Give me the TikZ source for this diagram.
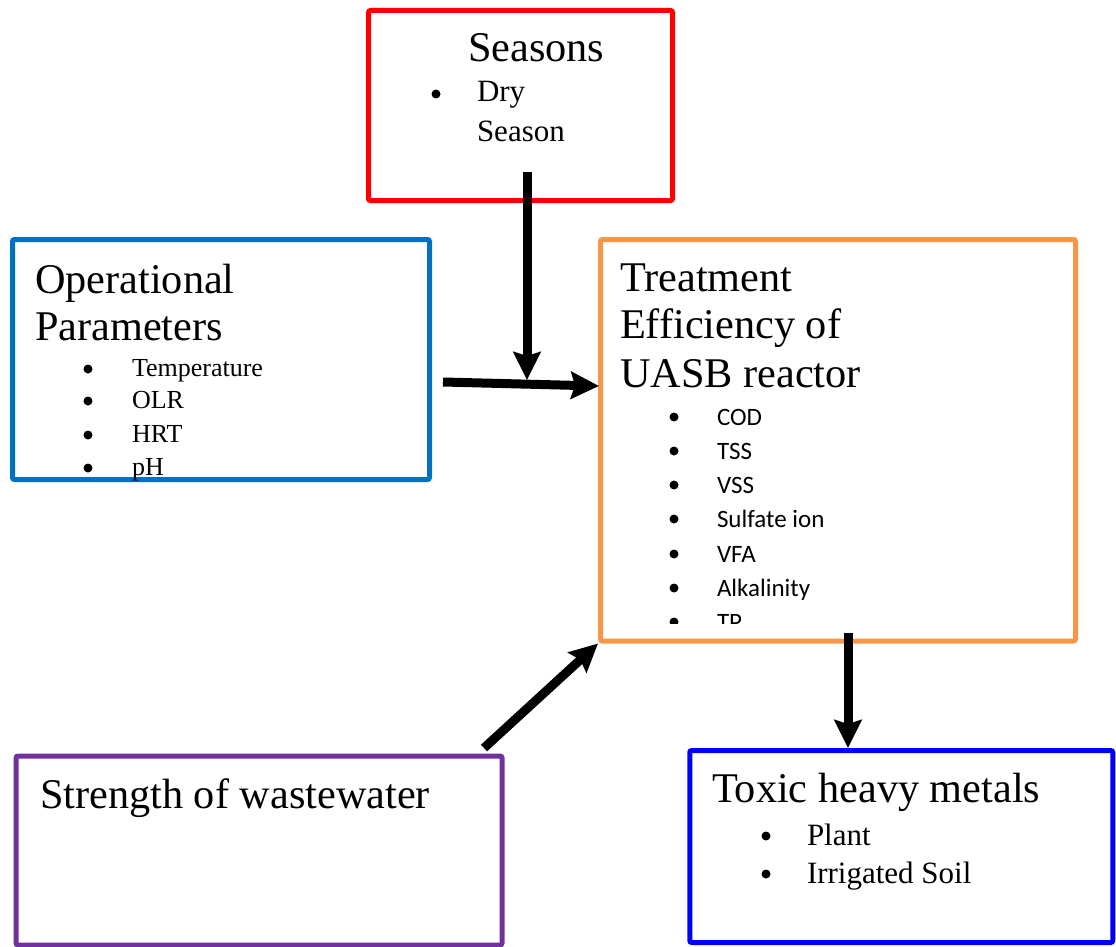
\documentclass[tikz,border=0pt]{standalone}
\usepackage{fontspec}
\setmainfont{Liberation Serif}
\newfontfamily\calibri{Carlito}
\usetikzlibrary{arrows.meta}
\begin{document}
\begin{tikzpicture}[x=1pt,y=-1pt,
 box/.style={draw,line width=5pt,rounded corners=2pt,inner sep=0pt},
 txt/.style={anchor=base west,inner sep=0pt,outer sep=0pt},
 ttl/.style={txt,font=\fontsize{42.3}{48}\selectfont},
 itm/.style={txt,font=\fontsize{26}{30}\selectfont},
 its/.style={txt,font=\fontsize{31}{36}\selectfont},
 itc/.style={txt,font=\calibri\fontsize{25}{30}\selectfont},
 bul/.style={circle,fill=black,draw=none,inner sep=0pt,minimum size=9pt},
 conn/.style={line width=9pt,-{Stealth[length=28pt,width=27pt,inset=4pt]}}
]
\useasboundingbox (0,0) rectangle (1116,947);
\definecolor{cred}{HTML}{FF0000}
\definecolor{cblue}{HTML}{0070C0}
\definecolor{corange}{HTML}{F79646}
\definecolor{cpurple}{HTML}{7030A0}
\definecolor{cbright}{HTML}{0000FF}

% boxes
\node[box,draw=cred,minimum width=304pt,minimum height=190pt] (seasons) at (520.5,105.5) {};
\node[box,draw=cblue,minimum width=417pt,minimum height=240pt] (op) at (221,359.5) {};
\node[box,draw=corange,minimum width=475pt,minimum height=401.5pt] (tr) at (838,440.25) {};
\node[box,draw=cbright,minimum width=423pt,minimum height=192pt] (tx) at (901.25,846.5) {};
\node[box,draw=cpurple,minimum width=486pt,minimum height=189pt] (st) at (259,850.5) {};

% Seasons text
\node[ttl] (s0) at (468,62) {Seasons};
\node[bul] (sb1) at (436,94) {};
\node[its] (s1) at (477,102) {Dry};
\node[its] (s2) at (477,142) {Season};

% Operational text
\node[ttl] (o0) at (35,293) {Operational};
\node[ttl] (o1) at (35,340) {Parameters};
\foreach \y/\t [count=\i] in {376/Temperature,408/OLR,442/HRT,475/pH}{
  \node[bul] (ob\i) at (88,\y-7) {};
  \node[itm] (oi\i) at (132,\y) {\t};
}

% Treatment text
\node[ttl] (t0) at (620,291) {Treatment};
\node[ttl] (t1) at (620,338) {Efficiency of};
\node[ttl] (t2) at (620,387) {UASB reactor};
\foreach \y/\t [count=\i] in {425/COD,459/TSS,493/VSS,527/Sulfate ion,562/VFA,596/Alkalinity}{
  \node[bul] (tb\i) at (674,\y-8) {};
  \node[itc] (ti\i) at (717,\y) {\t};
}
\begin{scope}
  \clip (640,590) rectangle (900,623);
  \node[bul] (tb7) at (674,622) {};
  \node[itc] (ti7) at (717,630) {TP};
\end{scope}

% Strength text
\node[ttl] (w0) at (40,808) {Strength of wastewater};

% Toxic text
\node[ttl] (x0) at (712,802) {Toxic heavy metals};
\node[bul] (xb1) at (766,836) {};
\node[its] (x1) at (807,845) {Plant};
\node[bul] (xb2) at (766,874) {};
\node[its] (x2) at (807,883) {Irrigated Soil};

% connectors
\coordinate (a1s) at (527,172);
\coordinate (a1e) at (527,380);
\coordinate (a2s) at (443,382);
\coordinate (a2e) at (599,386);
\coordinate (a3s) at (484,748);
\coordinate (a4s) at (848,633);
\coordinate (a4e) at (848,748);
\draw[conn] (a1s) -- (a1e);
\draw[conn] (a2s) -- (a2e);
\draw[conn] (a3s) -- (tr.south west);
\draw[conn] (a4s) -- (a4e);
\end{tikzpicture}
\end{document}
